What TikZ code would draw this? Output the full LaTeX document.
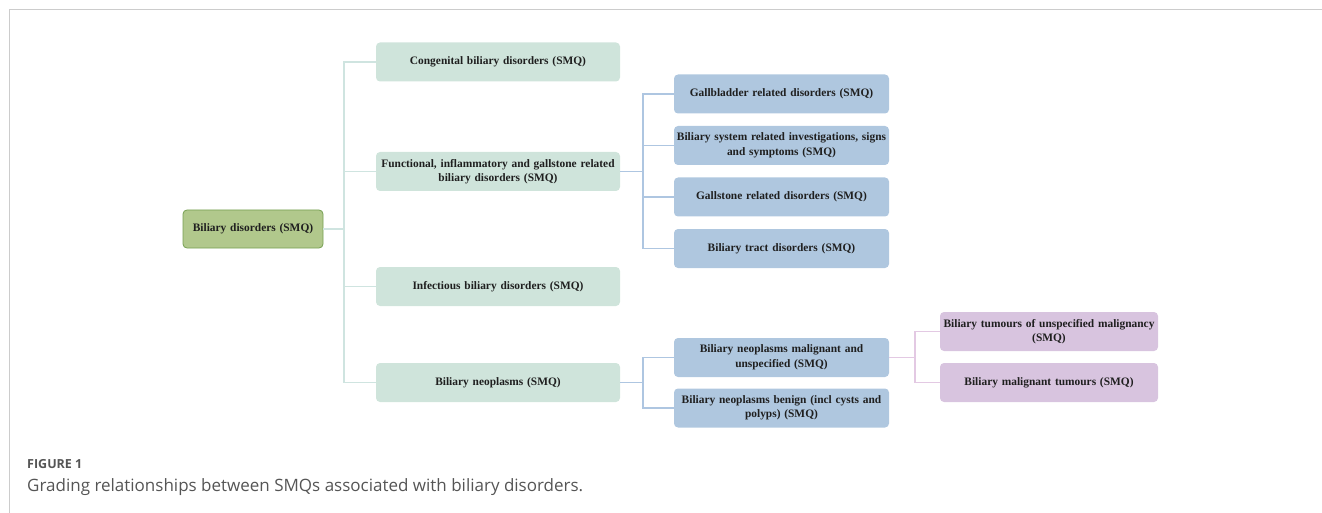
\documentclass[tikz,border=0pt]{standalone}
\usepackage{fontspec}
\setmainfont{Liberation Serif}
\newfontfamily\capfont{Open Sans}
\definecolor{rootfill}{HTML}{B1C88C}
\definecolor{rootdraw}{HTML}{76A052}
\definecolor{lgreen}{HTML}{CFE4DB}
\definecolor{lblue}{HTML}{AFC7DF}
\definecolor{lpurple}{HTML}{D8C4DF}
\definecolor{cgreen}{HTML}{CFE4E0}
\definecolor{cblue}{HTML}{AEC6E1}
\definecolor{cpurple}{HTML}{E3C9E3}
\definecolor{framecol}{HTML}{CCCCCC}
\definecolor{capcol}{HTML}{555555}
\tikzset{
  x=1pt, y=-1pt,
  box/.style={rounded corners=4pt, inner sep=0pt, align=center,
    font=\fontsize{11.4}{14.5}\selectfont\bfseries, text=black!88},
  rootbox/.style={box, fill=rootfill, draw=rootdraw, line width=0.8pt,
    minimum width=140pt, minimum height=38pt, text width=138pt},
  gbox/.style={box, fill=lgreen, minimum width=244pt, minimum height=39pt, text width=242pt},
  bbox/.style={box, fill=lblue, minimum width=215pt, minimum height=39pt, text width=215pt},
  pbox/.style={box, fill=lpurple, minimum width=218pt, minimum height=39pt, text width=218pt},
  gline/.style={draw=cgreen, line width=1.2pt},
  bline/.style={draw=cblue, line width=1.2pt},
  pline/.style={draw=cpurple, line width=1.2pt},
}
\begin{document}
\begin{tikzpicture}
\useasboundingbox (0,0) rectangle (1322,513);
\draw[framecol, line width=1pt] (9.5,513) -- (9.5,9.5) -- (1322,9.5);

% nodes
\node[rootbox] (root) at (253,229) {Biliary disorders (SMQ)};
\node[gbox] (cong) at (498,62) {Congenital biliary disorders (SMQ)};
\node[gbox] (func) at (498,171.5) {Functional, inflammatory and gallstone related\\biliary disorders (SMQ)};
\node[gbox] (infe) at (498,286.5) {Infectious biliary disorders (SMQ)};
\node[gbox] (neop) at (498,382.5) {Biliary neoplasms (SMQ)};

\node[bbox] (gall) at (781.5,94) {Gallbladder related disorders (SMQ)};
\node[bbox] (bsys) at (781.5,145.5) {Biliary system related investigations, signs\\and symptoms (SMQ)};
\node[bbox] (gsto) at (781.5,197) {Gallstone related disorders (SMQ)};
\node[bbox] (btra) at (781.5,248.5) {Biliary tract disorders (SMQ)};

\node[bbox] (nmal) at (781.5,357.5) {Biliary neoplasms malignant and\\unspecified (SMQ)};
\node[bbox] (nben) at (781.5,408) {Biliary neoplasms benign (incl cysts and\\polyps) (SMQ)};

\node[pbox] (tuns) at (1049,331.5) {Biliary tumours of unspecified malignancy\\(SMQ)};
\node[pbox] (tmal) at (1049,382.5) {Biliary malignant tumours (SMQ)};

% junction coordinates
\coordinate (j1) at (344,229);
\coordinate (j2) at (643,171.5);
\coordinate (j3) at (643,382.5);
\coordinate (j4) at (915,357.5);

% level 1 connectors
\draw[gline] (root.east) -- (j1);
\draw[gline] (cong.west) -| (j1);
\draw[gline] (func.west) -| (j1);
\draw[gline] (infe.west) -| (j1);
\draw[gline] (neop.west) -| (j1);

% level 2 connectors
\draw[bline] (func.east) -- (j2);
\draw[bline] (gall.west) -| (j2);
\draw[bline] (bsys.west) -| (j2);
\draw[bline] (gsto.west) -| (j2);
\draw[bline] (btra.west) -| (j2);

\draw[bline] (neop.east) -- (j3);
\draw[bline] (nmal.west) -| (j3);
\draw[bline] (nben.west) -| (j3);

% level 3 connectors
\draw[pline] (nmal.east) -- (j4);
\draw[pline] (tuns.west) -| (j4);
\draw[pline] (tmal.west) -| (j4);

% caption
\node[anchor=base west, inner sep=0pt, text=capcol, font=\capfont\fontsize{12.5}{14}\selectfont\bfseries] (figl) at (27,468) {FIGURE 1};
\node[anchor=base west, inner sep=0pt, text=capcol, font=\capfont\fontsize{17}{20}\selectfont] (capt) at (27,491) {Grading relationships between SMQs associated with biliary disorders.};
\end{tikzpicture}
\end{document}
